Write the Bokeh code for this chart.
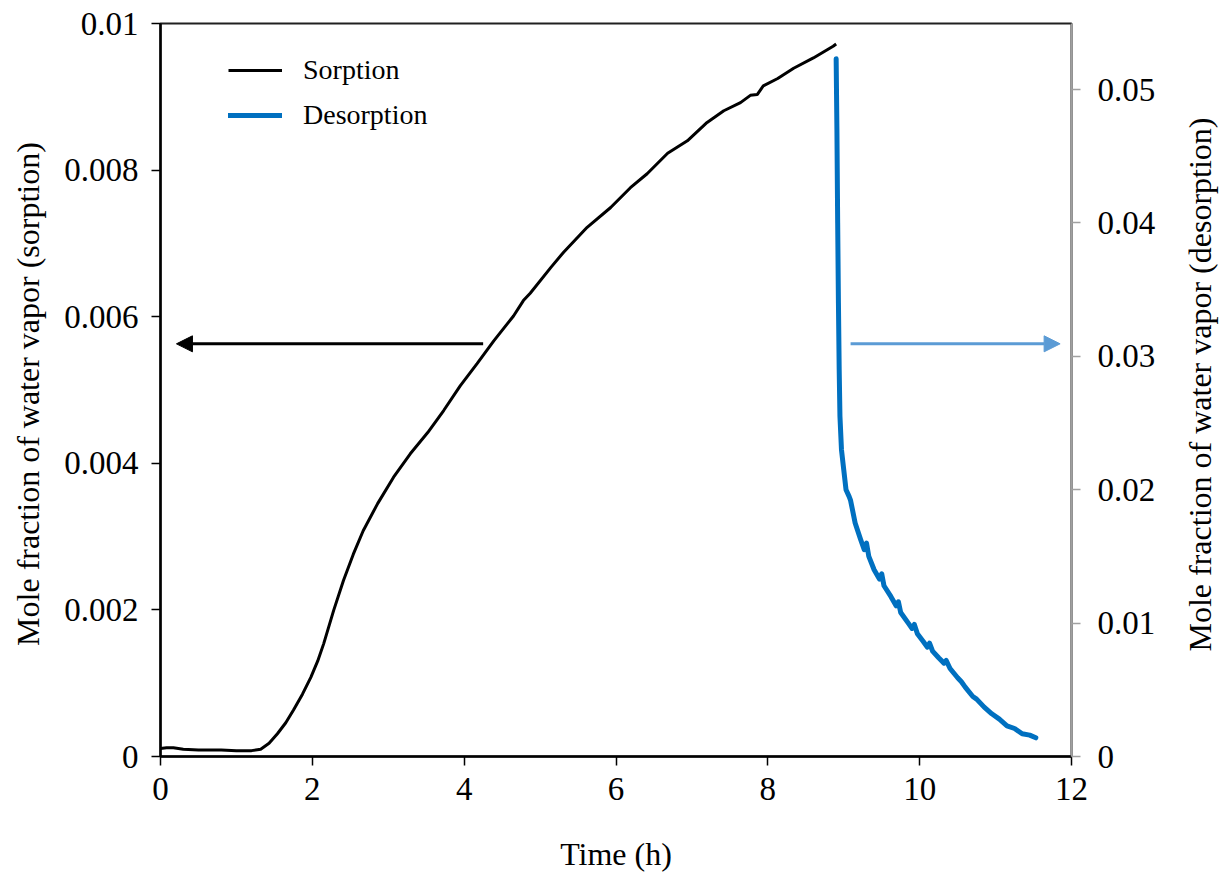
import math
from bokeh.plotting import figure
from bokeh.layouts import row
from bokeh.models import (Range1d, LinearAxis, FixedTicker, Arrow, NormalHead,
                          Legend, LegendItem, ColumnDataSource, Label)
from bokeh.embed import file_html
from bokeh.resources import INLINE

# ---------------- data ----------------
sorption_time = [0.0, 0.08, 0.17, 0.3, 0.5, 0.8, 1.0, 1.2, 1.32, 1.43, 1.54, 1.65, 1.75,
                 1.87, 1.98, 2.07, 2.15, 2.28, 2.41, 2.54, 2.67, 2.86, 3.07, 3.29, 3.52,
                 3.73, 3.95, 4.17, 4.39, 4.65, 4.78, 4.87, 5.14, 5.31, 5.62, 5.93, 6.19,
                 6.41, 6.68, 6.94, 7.20, 7.42, 7.64, 7.77, 7.86, 7.94, 8.13, 8.34, 8.60,
                 8.86, 8.90]
sorption_val = [0.00011, 0.00012, 0.00012, 0.00010, 0.00009, 0.00009, 0.00008, 0.00008,
                0.00010, 0.00018, 0.00031, 0.00046, 0.00063, 0.00085, 0.00108, 0.00130,
                0.00154, 0.00199, 0.00240, 0.00276, 0.00308, 0.00345, 0.00381, 0.00413,
                0.00442, 0.00472, 0.00506, 0.00536, 0.00567, 0.00601, 0.00622, 0.00632,
                0.00667, 0.00688, 0.00722, 0.00749, 0.00776, 0.00795, 0.00823, 0.00840,
                0.00865, 0.00881, 0.00892, 0.00902, 0.00903, 0.00915, 0.00925, 0.00939,
                0.00953, 0.00969, 0.00972]

desorption_time = [8.90, 8.91, 8.92, 8.93, 8.94, 8.95, 8.97, 9.00, 9.03, 9.07, 9.09, 9.15,
                   9.22, 9.27, 9.30, 9.33, 9.40, 9.47, 9.50, 9.53, 9.62, 9.69, 9.72, 9.75,
                   9.85, 9.90, 9.93, 9.97, 10.05, 10.10, 10.13, 10.17, 10.25, 10.32, 10.35,
                   10.40, 10.50, 10.55, 10.60, 10.70, 10.75, 10.85, 10.95, 11.05, 11.15,
                   11.25, 11.35, 11.45, 11.53]
desorption_val = [0.0523, 0.0470, 0.0400, 0.0340, 0.0290, 0.0255, 0.0230, 0.0215, 0.0200,
                  0.0195, 0.0192, 0.0175, 0.0163, 0.0155, 0.0160, 0.0150, 0.0140, 0.0133,
                  0.0137, 0.0128, 0.0120, 0.0113, 0.0116, 0.0108, 0.0100, 0.0096, 0.0099,
                  0.0092, 0.0086, 0.0082, 0.0085, 0.0079, 0.0074, 0.0070, 0.0072, 0.0066,
                  0.0059, 0.0056, 0.0052, 0.0045, 0.0043, 0.0037, 0.0032, 0.0028, 0.0023,
                  0.0021, 0.0017, 0.0016, 0.0014]

x_ticks = [0, 2, 4, 6, 8, 10, 12]
x_tick_labels = ["0", "2", "4", "6", "8", "10", "12"]
left_ticks = [0, 0.002, 0.004, 0.006, 0.008, 0.01]
left_tick_labels = ["0", "0.002", "0.004", "0.006", "0.008", "0.01"]
right_ticks = [0, 0.01, 0.02, 0.03, 0.04, 0.05]
right_tick_labels = ["0", "0.01", "0.02", "0.03", "0.04", "0.05"]

x_limits = (0, 12)
left_limits = (0, 0.01)
right_limits = (0, 0.05495)

x_title = "Time (h)"
left_title = "Mole fraction of  water vapor (sorption)"
right_title = "Mole fraction of water vapor (desorption)"

# annotation arrows (data coordinates, left axis)
sorption_arrow = dict(x_start=4.25, x_end=0.21, y=0.00563)
desorption_arrow = dict(x_start=9.09, x_end=11.85, y=0.00563)

FONT = "Liberation Serif"
BLACK = "#000000"
BLUE = "#0070C0"
ARROW_BLUE = "#5B9BD5"

# ---------------- main figure ----------------
p = figure(width=1180, height=875, output_backend="svg", toolbar_location=None,
           x_range=Range1d(*x_limits), y_range=Range1d(*left_limits),
           min_border_left=160, min_border_right=109, min_border_top=23,
           min_border_bottom=119)
p.extra_y_ranges = {"right": Range1d(*right_limits)}
p.grid.visible = False
p.background_fill_color = "white"
p.border_fill_color = "white"
p.outline_line_color = "#202020"
p.outline_line_width = 2

src_s = ColumnDataSource(dict(t=sorption_time, v=sorption_val))
src_d = ColumnDataSource(dict(t=desorption_time, v=desorption_val))
r_s = p.line("t", "v", source=src_s, line_color=BLACK, line_width=3)
r_d = p.line("t", "v", source=src_d, line_color=BLUE, line_width=5,
             y_range_name="right", line_cap="round", line_join="round")

def style_axis(ax, ticks, labels, color=BLACK, line_w=2.5):
    ax.ticker = FixedTicker(ticks=ticks)
    ax.major_label_overrides = {t: l for t, l in zip(ticks, labels)}
    ax.major_label_text_font = FONT
    ax.major_label_text_font_size = "33px"
    ax.major_label_text_color = BLACK
    ax.axis_label_text_font = FONT
    ax.axis_label_text_font_size = "32px"
    ax.axis_label_text_font_style = "normal"
    ax.axis_label_text_color = BLACK
    ax.axis_line_color = color
    ax.axis_line_width = line_w
    ax.major_tick_line_color = color
    ax.major_tick_line_width = 1.5
    ax.major_tick_in = 0
    ax.major_tick_out = 9
    ax.minor_tick_line_color = None

xa = p.xaxis[0]
style_axis(xa, x_ticks, x_tick_labels)
xa.axis_label = x_title
xa.major_label_standoff = 12
xa.axis_label_standoff = 33

ya = p.yaxis[0]
style_axis(ya, left_ticks, left_tick_labels)
ya.axis_label = left_title
ya.major_label_standoff = 13
ya.axis_label_standoff = 15

ra = LinearAxis(y_range_name="right")
style_axis(ra, right_ticks, right_tick_labels, color="#A0A0A0", line_w=1.5)
ra.major_label_standoff = 17
p.add_layout(ra, "right")

# arrows
p.add_layout(Arrow(end=NormalHead(size=16, fill_color=BLACK, line_color=BLACK),
                   x_start=sorption_arrow["x_start"], y_start=sorption_arrow["y"],
                   x_end=sorption_arrow["x_end"], y_end=sorption_arrow["y"],
                   line_color=BLACK, line_width=3))
p.add_layout(Arrow(end=NormalHead(size=16, fill_color=ARROW_BLUE, line_color=ARROW_BLUE),
                   x_start=desorption_arrow["x_start"], y_start=desorption_arrow["y"],
                   x_end=desorption_arrow["x_end"], y_end=desorption_arrow["y"],
                   line_color=ARROW_BLUE, line_width=3))

# legend
legend = Legend(items=[LegendItem(label="Sorption", renderers=[r_s]),
                       LegendItem(label="Desorption", renderers=[r_d])],
                location=(68, 625), orientation="vertical",
                padding=0, margin=0, spacing=13,
                glyph_width=54, glyph_height=20, label_height=20,
                label_standoff=21,
                label_text_font=FONT, label_text_font_size="28px",
                label_text_color=BLACK,
                border_line_color=None, background_fill_alpha=0)
p.add_layout(legend, "center")

# ---------------- strip holding the right-hand axis title ----------------
q = figure(width=43, height=875, output_backend="svg", toolbar_location=None,
           title=None, x_range=Range1d(0, 1), y_range=Range1d(0, 1),
           min_border=0, min_border_left=0, min_border_right=0,
           min_border_top=0, min_border_bottom=0)
q.axis.visible = False
q.grid.visible = False
q.outline_line_color = None
q.background_fill_color = "white"
q.border_fill_color = "white"
q.add_layout(Label(x=19, y=372, x_units="screen", y_units="screen",
                   text=right_title, angle=math.pi / 2,
                   text_align="center", text_baseline="middle",
                   text_font=FONT, text_font_size="32px", text_color=BLACK))

layout = row(p, q, spacing=0)
open("out.html", "w").write(file_html(layout, INLINE))
